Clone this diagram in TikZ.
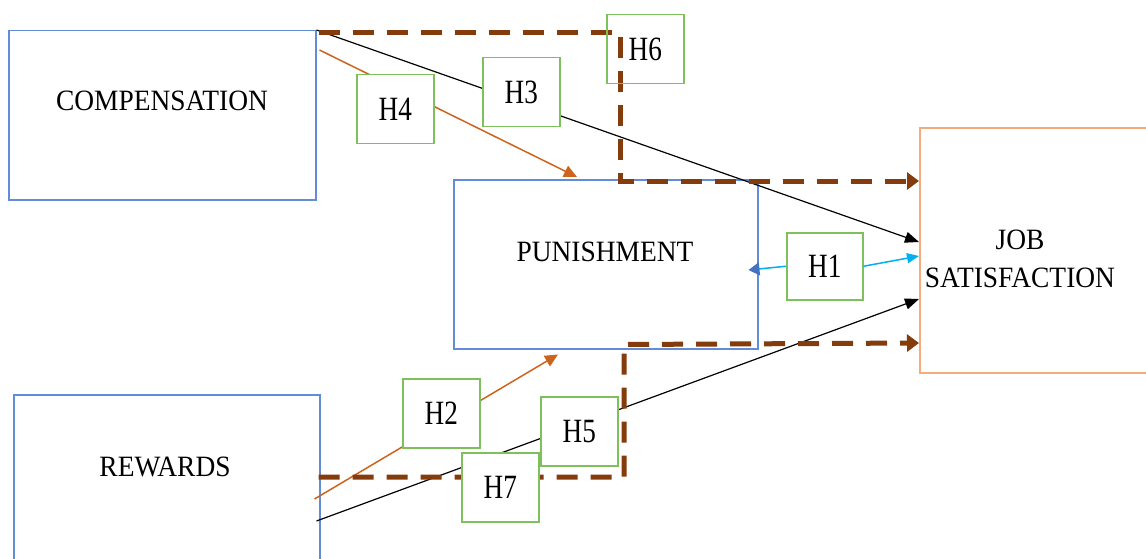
\documentclass[tikz,border=0pt]{standalone}
\usepackage{fontspec}
\setmainfont{Liberation Serif}
\newfontfamily\boxfont[FakeStretch=0.93]{Liberation Serif}
\newfontfamily\hfont[FakeStretch=0.8]{Liberation Serif}
\usetikzlibrary{arrows.meta,calc}
\definecolor{boxblue}{RGB}{98,140,216}
\definecolor{jsorange}{RGB}{244,172,125}
\definecolor{hgreen}{RGB}{128,192,92}
\definecolor{dbrown}{RGB}{132,60,12}
\definecolor{arrorange}{RGB}{205,100,30}
\definecolor{lcyan}{RGB}{0,176,240}
\definecolor{tipblue}{RGB}{68,114,196}
\tikzset{
  bigbox/.style={draw=boxblue, line width=1.5pt, inner sep=0pt, anchor=north west},
  hbox/.style={draw=hgreen, line width=1.5pt, fill=white, inner sep=0pt, anchor=north west,
    minimum width=77pt, minimum height=69pt, font=\hfont\fontsize{34}{34}\selectfont},
  lbl/.style={font=\boxfont\fontsize{29.5}{38}\selectfont, align=center, inner sep=0pt},
  blkarrow/.style={draw=black, line width=1.2pt, -{Triangle[length=14pt,width=11pt]}},
  orarrow/.style={draw=arrorange, line width=1.5pt, -{Triangle[length=13pt,width=12pt]}},
  brdash/.style={draw=dbrown, line width=5pt, dash pattern=on 21pt off 13pt, -{Triangle[length=12pt,width=17pt]}},
  cyarrow/.style={draw=lcyan, line width=1.5pt},
}
\begin{document}
\begin{tikzpicture}[x=1pt,y=-1pt]
\clip (0,0) rectangle (1146,559);
\fill[white] (0,0) rectangle (1146,559);
% main boxes
\node[bigbox, minimum width=307pt, minimum height=169pt] (comp) at (8,30) {};
\node[bigbox, minimum width=304pt, minimum height=169pt] (pun) at (453,179) {};
\node[bigbox, minimum width=306pt, minimum height=200pt] (rew) at (13,394) {};
\node[bigbox, draw=jsorange, line width=2pt, minimum width=260pt, minimum height=245pt] (js) at (919,127) {};
\node[lbl] (tcomp) at (162,101) {COMPENSATION};
\node[lbl] (tpun) at (605,252) {PUNISHMENT};
\node[lbl] (trew) at (165,467) {REWARDS};
\node[lbl] (tjs) at (1020,259) {JOB\\SATISFACTION};
% connectors
\draw[blkarrow] (comp.north east) -- ($(js.north west)+(0,115)$);
\draw[blkarrow] ($(rew.north east)+(-4,127)$) -- ($(js.north west)+(0,172)$);
\draw[orarrow] ($(comp.north east)+(3,20)$) -- ($(pun.north west)+(124,-2)$);
\draw[orarrow] ($(rew.north east)+(-6,105)$) -- ($(pun.south west)+(105,5)$);
% dashed brown paths
\draw[brdash] ($(comp.north east)+(2,3)$) -| ($(pun.north west)+(167,2)$) -- ($(js.north west)+(0,54)$);
\draw[brdash] ($(rew.north east)+(-2,83)$) -| ($(pun.south west)+(171,-5)$) -- ($(js.north west)+(0,216)$);
% hypothesis boxes
\node[hbox, fill=none] (h6) at (606,14) {H6};
\node[hbox] (h3) at (482,57) {H3};
\node[hbox] (h4) at (356,74) {H4};
\node[hbox, minimum width=76pt, minimum height=67pt] (h1) at (786,232) {H1};
\node[hbox] (h2) at (402,378) {H2};
\node[hbox] (h5) at (540,396) {H5};
\node[hbox] (h7) at (461,452) {H7};
% H1 arrows
\draw[cyarrow, -{Triangle[length=12pt,width=10pt]}] (h1.east) -- ($(js.north west)+(0,129)$);
\draw[cyarrow, -{Triangle[length=11pt,width=13pt,color=tipblue]}] (h1.west) -- ($(pun.north east)+(-10,91)$);
\end{tikzpicture}
\end{document}
